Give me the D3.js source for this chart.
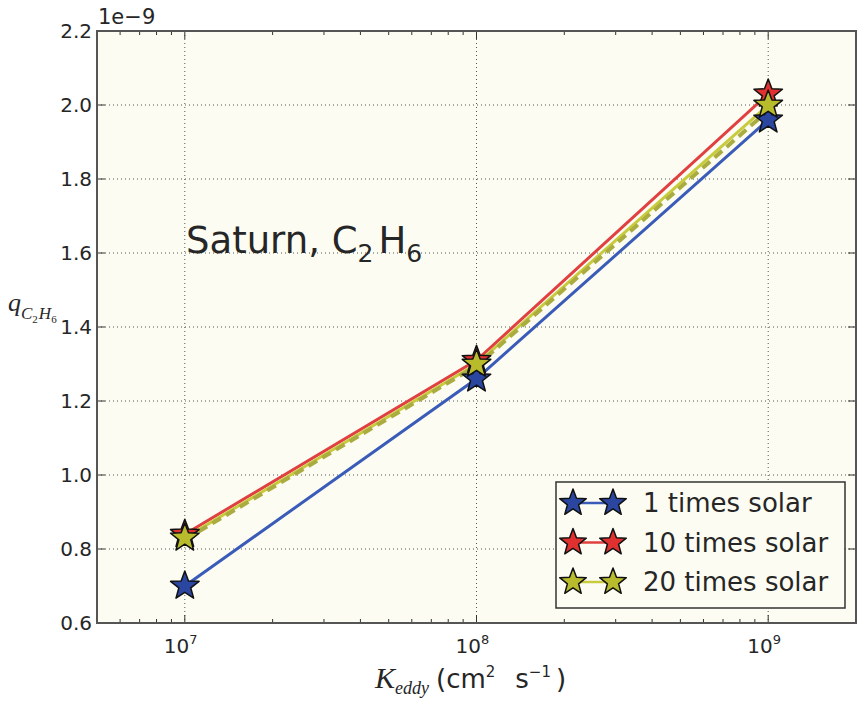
<!DOCTYPE html>
<meta charset="utf-8">
<style>
body { margin: 0; background: #fff; }
text { font-family: "DejaVu Sans", sans-serif; fill: #262626; }
.math { font-family: "Liberation Serif", "DejaVu Serif", serif; font-style: italic; }
</style>
<svg width="866" height="701" class="top"></svg>
<script src="https://d3js.org/d3.v7.min.js"></script>
<script>

// data (values in units of 1e-9)
var keddy = [1e7, 1e8, 1e9];
var series = ["1 times solar", "10 times solar", "20 times solar"];
var q1 = [0.70, 1.26, 1.96];
var q10 = [0.84, 1.31, 2.03];
var q20 = [0.83, 1.30, 2.00];
var qDashed = [0.825, 1.295, 1.985];
var yTicks = [0.6, 0.8, 1.0, 1.2, 1.4, 1.6, 1.8, 2.0, 2.2];
var xTicks = [1e7, 1e8, 1e9];
var xExp = ["7", "8", "9"];

var lineColors = ["#3a5cb8", "#e04040", "#c8cc3c"];
var starColors = ["#2a46a0", "#e03030", "#b8bc2c"];

var svg = d3.select(".top"),
    margin = {top: 31, right: 10, bottom: 78, left: 97},
    width = +svg.attr("width") - margin.left - margin.right,
    height = +svg.attr("height") - margin.top - margin.bottom,
    g = svg.append("g").attr("transform", "translate(" + margin.left + "," + margin.top + ")");

var x = d3.scaleLog().domain([5e6, 2e9]).range([0, width]);
var y = d3.scaleLinear().domain([0.6, 2.2]).range([height, 0]);

g.append("rect")
    .attr("width", width)
    .attr("height", height)
    .attr("fill", "#fcfcf3");

// grid
g.selectAll(".gx").data(xTicks).enter().append("line")
    .attr("x1", function(d) { return x(d); })
    .attr("x2", function(d) { return x(d); })
    .attr("y1", 0).attr("y2", height)
    .attr("stroke", "#555").attr("stroke-width", 1)
    .attr("stroke-dasharray", "1,3");
g.selectAll(".gy").data(yTicks.slice(1, -1)).enter().append("line")
    .attr("y1", function(d) { return y(d); })
    .attr("y2", function(d) { return y(d); })
    .attr("x1", 0).attr("x2", width)
    .attr("stroke", "#555").attr("stroke-width", 1)
    .attr("stroke-dasharray", "1,3");

// ticks, inward on all sides
var minors = [];
[6, 7, 8, 9].forEach(function(e) {
  for (var k = 2; k < 10; k++) {
    var v = k * Math.pow(10, e);
    if (v >= 5e6 && v <= 2e9) minors.push(v);
  }
});
var tk = g.append("g").attr("stroke", "#333");
minors.forEach(function(v) {
  tk.append("line").attr("x1", x(v)).attr("x2", x(v)).attr("y1", height).attr("y2", height - 4);
  tk.append("line").attr("x1", x(v)).attr("x2", x(v)).attr("y1", 0).attr("y2", 4);
});
xTicks.forEach(function(v) {
  tk.append("line").attr("x1", x(v)).attr("x2", x(v)).attr("y1", height).attr("y2", height - 8);
  tk.append("line").attr("x1", x(v)).attr("x2", x(v)).attr("y1", 0).attr("y2", 8);
});
yTicks.forEach(function(v) {
  tk.append("line").attr("y1", y(v)).attr("y2", y(v)).attr("x1", 0).attr("x2", 8);
  tk.append("line").attr("y1", y(v)).attr("y2", y(v)).attr("x1", width).attr("x2", width - 8);
});

// tick labels
g.selectAll(".yl").data(yTicks).enter().append("text")
    .attr("x", -5)
    .attr("y", function(d) { return y(d); })
    .attr("dy", "0.36em")
    .attr("text-anchor", "end")
    .style("font-size", "20px")
    .text(function(d) { return d.toFixed(1); });

xTicks.forEach(function(v, i) {
  var t = g.append("text")
      .attr("x", x(v) - 21)
      .attr("y", height + 30)
      .style("font-size", "20px");
  t.append("tspan").text("10");
  t.append("tspan").attr("dy", -9).style("font-size", "13px").text(xExp[i]);
});

g.append("text")
    .attr("x", 1)
    .attr("y", -7)
    .style("font-size", "21px")
    .text("1e\u22129");

// lines
var line = d3.line()
    .x(function(d, i) { return x(keddy[i]); })
    .y(function(d) { return y(d); });

[q1, q10, q20].forEach(function(s, i) {
  g.append("path")
      .datum(s)
      .attr("d", line)
      .attr("fill", "none")
      .attr("stroke", lineColors[i])
      .attr("stroke-width", 3);
});

g.append("path")
    .datum(qDashed)
    .attr("d", line)
    .attr("fill", "none")
    .attr("stroke", "#aaac40")
    .attr("stroke-width", 4)
    .attr("stroke-dasharray", "10,6");

function starPath(R) {
  var r = R * 0.42, pts = [];
  for (var k = 0; k < 10; k++) {
    var a = -Math.PI / 2 + k * Math.PI / 5;
    var rr = k % 2 ? r : R;
    pts.push([rr * Math.cos(a), rr * Math.sin(a)]);
  }
  return "M" + pts.join("L") + "Z";
}

[q1, q10, q20].forEach(function(s, i) {
  g.selectAll(".st" + i).data(s).enter().append("path")
      .attr("d", starPath(15))
      .attr("transform", function(d, j) { return "translate(" + x(keddy[j]) + "," + y(d) + ")"; })
      .attr("fill", starColors[i])
      .attr("stroke", "#111")
      .attr("stroke-width", 1.5)
      .attr("stroke-linejoin", "round");
});

// frame
g.append("rect")
    .attr("width", width)
    .attr("height", height)
    .attr("fill", "none")
    .attr("stroke", "#555")
    .attr("stroke-width", 2);

// annotation
var ann = svg.append("text")
    .attr("x", 186)
    .attr("y", 253)
    .style("font-size", "37px");
ann.append("tspan").text("Saturn, C");
ann.append("tspan").attr("dy", 9).style("font-size", "25px").text("2");
ann.append("tspan").attr("dx", 5).attr("dy", -9).text("H");
ann.append("tspan").attr("dy", 9).style("font-size", "25px").text("6");

// axis labels
var yl = svg.append("text")
    .attr("class", "math")
    .attr("x", 8)
    .attr("y", 311)
    .style("font-size", "26px");
yl.append("tspan").text("q");
yl.append("tspan").attr("dy", 8).style("font-size", "17px").text("C");
yl.append("tspan").attr("dy", 4).style("font-size", "11px").style("font-style", "normal").text("2");
yl.append("tspan").attr("dx", 1).attr("dy", -4).style("font-size", "17px").text("H");
yl.append("tspan").attr("dy", 4).style("font-size", "11px").style("font-style", "normal").text("6");

var xl = svg.append("text")
    .attr("x", 375)
    .attr("y", 688)
    .style("font-size", "26px");
xl.append("tspan").attr("class", "math").style("font-size", "30px").text("K");
xl.append("tspan").attr("class", "math").attr("dy", 6).style("font-size", "18px").text("eddy");
xl.append("tspan").attr("dx", 7).attr("dy", -6).text("(cm");
xl.append("tspan").attr("dy", -11).style("font-size", "15px").text("2");
xl.append("tspan").attr("dx", 20).attr("dy", 11).text("s");
xl.append("tspan").attr("dy", -11).style("font-size", "15px").text("\u22121");
xl.append("tspan").attr("dx", 5).attr("dy", 11).text(")");

// legend
var lg = svg.append("g").attr("transform", "translate(556,482)");
lg.append("rect")
    .attr("width", 289)
    .attr("height", 126)
    .attr("fill", "#fcfcf3")
    .attr("stroke", "#333")
    .attr("stroke-width", 1.5);

var rows = lg.selectAll(".legend")
    .data(series)
    .enter().append("g")
      .attr("class", "legend")
      .attr("transform", function(d, i) { return "translate(0," + (21 + i * 39.5) + ")"; });

rows.append("line")
    .attr("x1", 17).attr("x2", 57)
    .attr("stroke", function(d, i) { return lineColors[i]; })
    .attr("stroke-width", 2.5);
[17, 57].forEach(function(cx) {
  rows.append("path")
      .attr("d", starPath(14))
      .attr("transform", "translate(" + cx + ",0)")
      .attr("fill", function(d, i) { return starColors[i]; })
      .attr("stroke", "#111")
      .attr("stroke-width", 1.5)
      .attr("stroke-linejoin", "round");
});
rows.append("text")
    .attr("x", 87)
    .attr("dy", "0.36em")
    .style("font-size", "26px")
    .text(function(d) { return d; });

</script>
